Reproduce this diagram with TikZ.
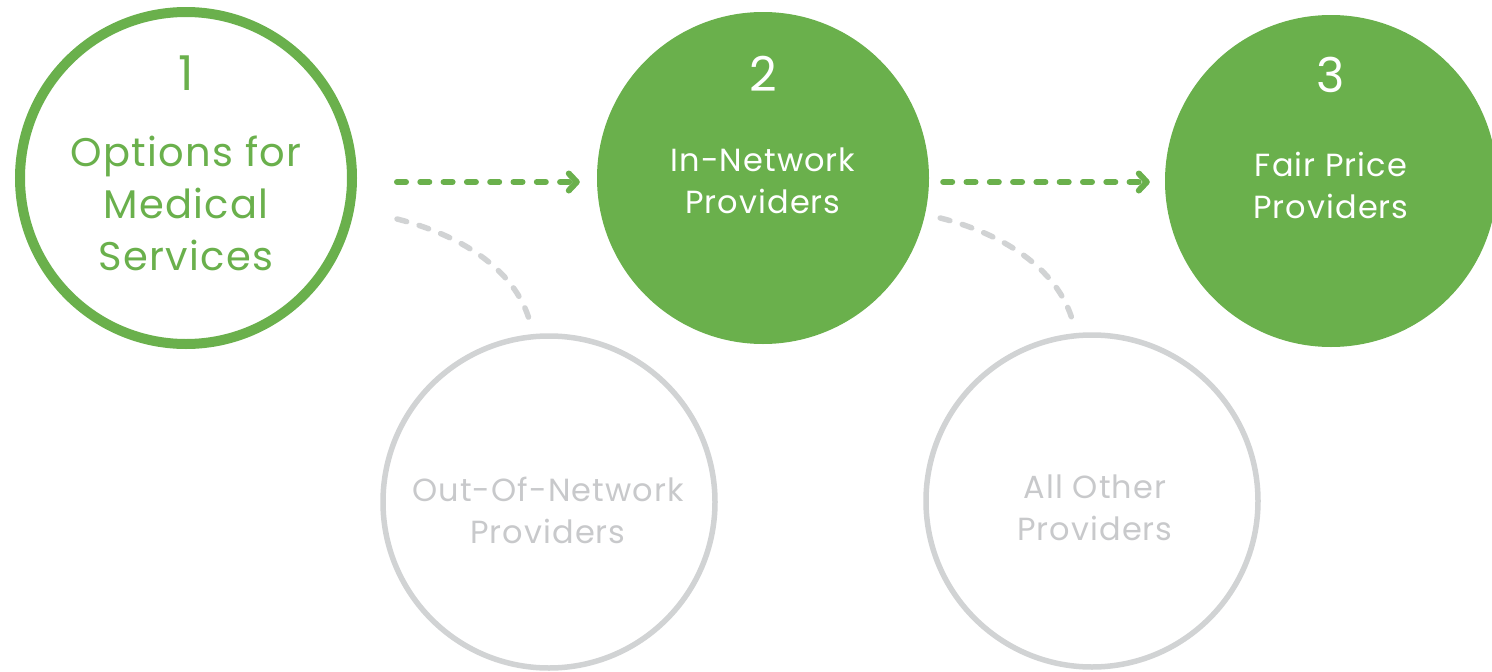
\documentclass[tikz,border=0pt]{standalone}
\usepackage{fontspec}
\setmainfont{Poppins}[LetterSpace=3.3]
\usetikzlibrary{arrows.meta,calc}
\definecolor{leaf}{RGB}{106,176,76}
\definecolor{ash}{RGB}{209,211,212}
\definecolor{ashtext}{RGB}{200,201,203}
\begin{document}
\begin{tikzpicture}[x=1pt,y=-1pt,
  stage/.style={circle,minimum size=332pt,inner sep=0pt},
  startstage/.style={stage,draw=leaf,line width=10pt,fill=white},
  donestage/.style={stage,fill=leaf},
  otherstage/.style={stage,draw=ash,line width=5.5pt},
  numtxt/.style={anchor=base,font=\fontsize{48}{48}\selectfont},
  % multi-line labels are anchored at the baseline of their last line
  bigtxt/.style={anchor=base,align=center,font=\fontsize{40}{52}\selectfont},
  smalltxt/.style={anchor=base,align=center,font=\fontsize{32}{41.5}\selectfont},
  flow/.style={leaf,line width=6pt,line cap=round,dash pattern=on 9pt off 14.3pt,
    -{Straight Barb[round,length=8pt,width=17pt]}},
  branch/.style={ash,line width=5.5pt,line cap=round,dash pattern=on 10pt off 13pt}
]
\useasboundingbox (0,0) rectangle (1492,672);

% main steps
\node[startstage] (c1) at (186,178) {};
\node[donestage]  (c2) at (763,178) {};
\node[donestage]  (c3) at (1331,181) {};
% side branches
\node[otherstage] (g1) at (549,502) {};
\node[otherstage] (g2) at (1092,501) {};

% labels
\node[numtxt,leaf]  (n1) at ($(c1.center)+(0,-88)$) {1};
\node[bigtxt,leaf]  (t1) at ($(c1.center)+(0,92)$) {Options for\\Medical\\Services};
\node[numtxt,white] (n2) at ($(c2.center)+(0,-87)$) {2};
\node[smalltxt,white] (t2) at ($(c2.center)+(0,35)$) {In-Network\\Providers};
\node[numtxt,white] (n3) at ($(c3.center)+(0,-89)$) {3};
\node[smalltxt,white] (t3) at ($(c3.center)+(0,37)$) {Fair Price\\Providers};
\node[smalltxt,ashtext] (u1) at ($(g1.center)+(-1,41)$) {Out-Of-Network\\Providers};
\node[smalltxt,ashtext] (u2) at ($(g2.center)+(3,39)$) {All Other\\Providers};

% forward arrows
\draw[flow,shorten <=40pt,shorten >=17pt] ($(c1.east)+(0,4)$) -- ($(c2.west)+(0,4)$);
\draw[flow,shorten <=14pt,shorten >=15pt] ($(c2.east)+(0,4)$) -- ($(c3.west)+(0,1)$);

% dashed branches
\draw[branch] ($(c1.east)+(40,41)$) .. controls +(60,15) and +(-15,-55) .. ($(g1.north)+(-19,-11)$);
\draw[branch] ($(c2.east)+(11,40)$) .. controls +(60,15) and +(-15,-55) .. ($(g2.north)+(-19,-10)$);
\end{tikzpicture}
\end{document}
